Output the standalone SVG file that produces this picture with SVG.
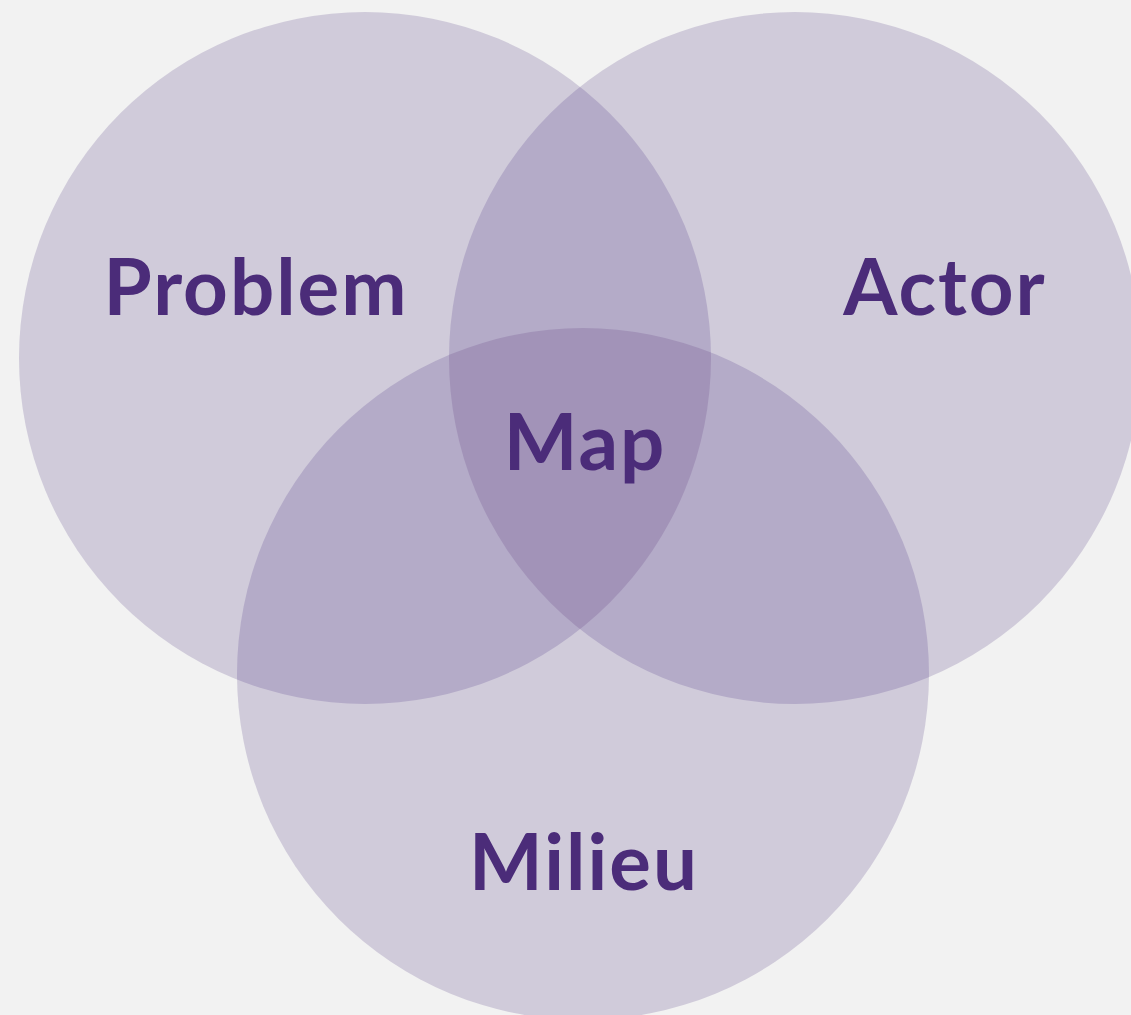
<svg xmlns="http://www.w3.org/2000/svg" width="1131" height="1015" viewBox="0 0 1131 1015">
<style>
.c{fill:#d0cbda}
.d{fill:#b4abc8}
.t{fill:#a293b8}
.lbl{font-family:Lato,"Liberation Sans",sans-serif;font-weight:700;font-size:78px;letter-spacing:2px;fill:#4b2c79;text-anchor:middle}
</style>
<defs>
<clipPath id="cp1"><circle cx="365" cy="358" r="346"/></clipPath>
<clipPath id="cp2"><circle cx="795" cy="358" r="346"/></clipPath>
</defs>
<rect width="1131" height="1015" fill="#f2f2f2"/>
<g id="problem"><circle class="c" cx="365" cy="358" r="346"/></g>
<g id="actor"><circle class="c" cx="795" cy="358" r="346"/></g>
<g id="milieu"><circle class="c" cx="583" cy="674" r="346"/></g>
<g id="overlaps">
<g clip-path="url(#cp1)"><circle class="d" cx="795" cy="358" r="346"/><circle class="d" cx="583" cy="674" r="346"/></g>
<g clip-path="url(#cp2)"><circle class="d" cx="583" cy="674" r="346"/></g>
<g clip-path="url(#cp1)"><g clip-path="url(#cp2)"><circle class="t" cx="583" cy="674" r="346"/></g></g>
</g>
<g id="labels">
<text class="lbl" x="256" y="315">Problem</text>
<text class="lbl" x="945" y="315">Actor</text>
<text class="lbl" x="585" y="470">Map</text>
<text class="lbl" x="584" y="890">Milieu</text>
</g>
</svg>
